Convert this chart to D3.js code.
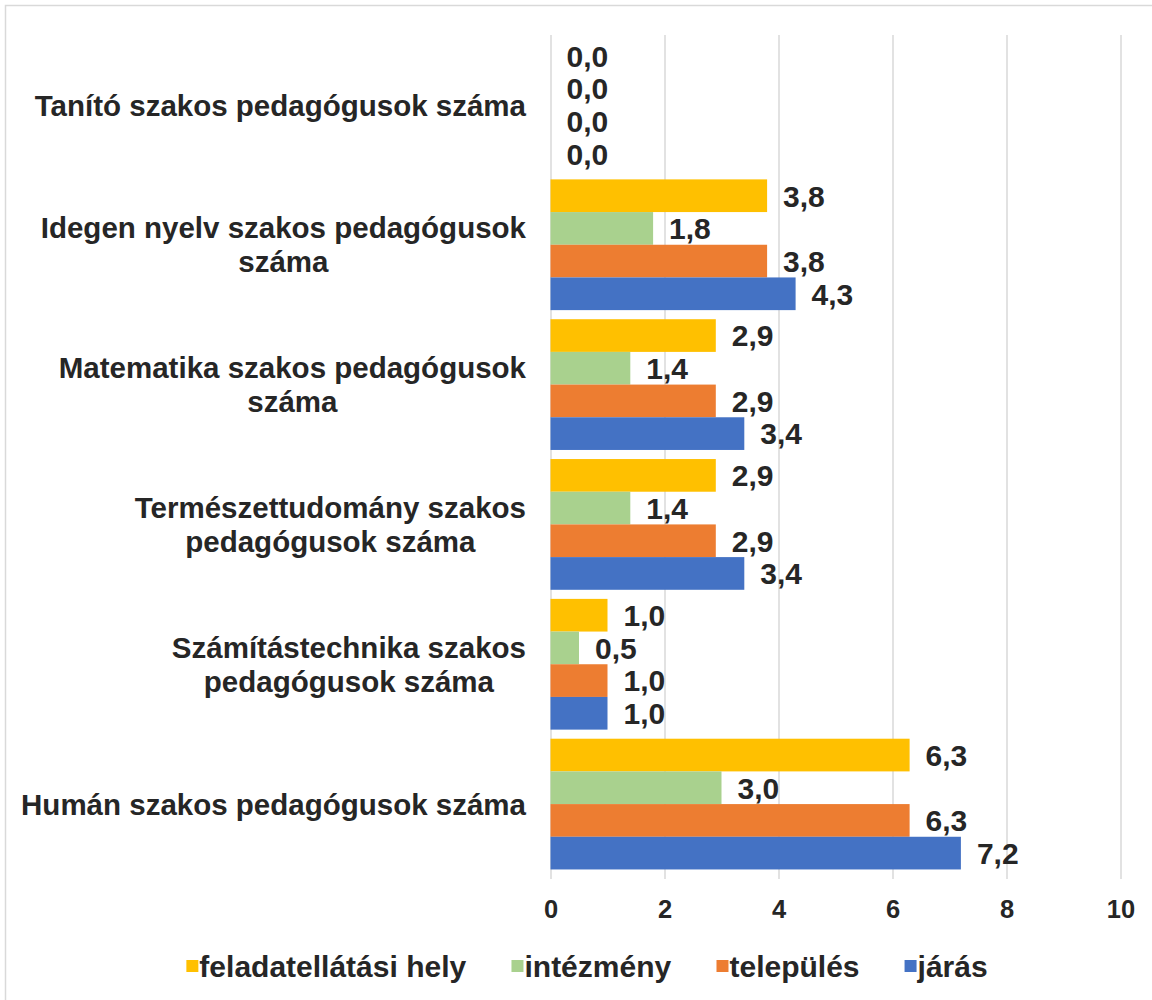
<!DOCTYPE html>
<html>
<head>
<meta charset="utf-8">
<script src="https://cdn.jsdelivr.net/npm/d3@7"></script>
<style>
  body { margin: 0; background: #fff; }
  text { font-family: "Liberation Sans", Arial, sans-serif; font-weight: bold; fill: #262626; }
</style>
</head>
<body>
<div id="chart"></div>
<script>
// ── Data ───────────────────────────────────────────────────
const categories = [
  "Tanító szakos pedagógusok száma",
  "Idegen nyelv szakos pedagógusok száma",
  "Matematika szakos pedagógusok száma",
  "Természettudomány szakos pedagógusok száma",
  "Számítástechnika szakos pedagógusok száma",
  "Humán szakos pedagógusok száma"
];
const seriesNames = ["feladatellátási hely", "intézmény", "település", "járás"];
const feladatellatasiHely = [0.0, 3.8, 2.9, 2.9, 1.0, 6.3];
const intezmeny           = [0.0, 1.8, 1.4, 1.4, 0.5, 3.0];
const telepules           = [0.0, 3.8, 2.9, 2.9, 1.0, 6.3];
const jaras               = [0.0, 4.3, 3.4, 3.4, 1.0, 7.2];
const xTicks = [0, 2, 4, 6, 8, 10];

const seriesValues = [feladatellatasiHely, intezmeny, telepules, jaras];
const COLORS = ["#FFC000", "#A9D18E", "#ED7D31", "#4472C4"];

const W = 1152, H = 1000;
const plot = { left: 550.5, right: 1120.5, top: 35, bottom: 874 };

const svg = d3.select("#chart").append("svg")
  .attr("width", W).attr("height", H);

// outer chart border (runs off the right/bottom edge like the source)
svg.append("rect")
  .attr("x", 5.5).attr("y", 5.5)
  .attr("width", W + 20).attr("height", H + 20)
  .attr("fill", "none").attr("stroke", "#d9d9d9").attr("stroke-width", 1.5);

// ── Scales ─────────────────────────────────────────────────
const x = d3.scaleLinear().domain([0, 10]).range([plot.left, plot.right]);
const y0 = d3.scaleBand().domain(categories).range([plot.top, plot.bottom])
  .paddingInner(0.065).paddingOuter(0.0325);
const y1 = d3.scaleBand().domain(d3.range(4)).range([0, y0.bandwidth()]);

// ── Gridlines (extend below the plot as tick marks) ─────────
svg.append("g")
  .attr("transform", `translate(0,${plot.bottom + 5})`)
  .call(d3.axisBottom(x).tickValues(xTicks).tickSize(-(plot.bottom + 5 - plot.top)).tickFormat(""))
  .call(ax => ax.select(".domain").remove())
  .call(ax => ax.selectAll("line").attr("stroke", "#d9d9d9").attr("stroke-width", 1.5));

// tick labels
svg.append("g")
  .attr("transform", `translate(0,${plot.bottom})`)
  .call(d3.axisBottom(x).tickValues(xTicks).tickSize(0).tickPadding(26))
  .call(ax => ax.select(".domain").remove())
  .call(ax => ax.selectAll("text").attr("font-size", 25.5)
    .style("font-family", "'Liberation Sans', Arial, sans-serif").attr("fill", "#262626"));

// ── Bars + value labels ────────────────────────────────────
categories.forEach((cat, ci) => {
  const g = svg.append("g").attr("transform", `translate(0,${y0(cat)})`);
  seriesValues.forEach((vals, si) => {
    const v = vals[ci];
    g.append("rect")
      .attr("x", x(0))
      .attr("y", y1(si))
      .attr("width", x(v) - x(0))
      .attr("height", y1.bandwidth())
      .attr("fill", COLORS[si]);
    g.append("text")
      .attr("x", x(v) + 16)
      .attr("y", y1(si) + y1.bandwidth() / 2)
      .attr("dy", "0.36em")
      .attr("font-size", 30)
      .text(v.toFixed(1).replace(".", ","));
  });
});

// ── Category labels, word-wrapped and centred per line ─────
const LABEL_RIGHT = 526, MAX_W = 515, LINE_H = 34, CAT_FS = 29.5;
categories.forEach(cat => {
  const t = svg.append("text").attr("font-size", CAT_FS).attr("text-anchor", "middle");
  const words = cat.split(" ");
  const lines = [];
  let cur = [];
  const probe = svg.append("text").attr("font-size", CAT_FS);
  words.forEach(w => {
    const test = [...cur, w].join(" ");
    probe.text(test);
    if (probe.node().getComputedTextLength() > MAX_W && cur.length) {
      lines.push(cur.join(" "));
      cur = [w];
    } else cur.push(w);
  });
  lines.push(cur.join(" "));
  const widths = lines.map(l => { probe.text(l); return probe.node().getComputedTextLength(); });
  probe.remove();
  const cx = LABEL_RIGHT - d3.max(widths) / 2;
  const cy = y0(cat) + y0.bandwidth() / 2;
  lines.forEach((l, i) => {
    t.append("tspan")
      .attr("x", cx)
      .attr("y", cy + (i - (lines.length - 1) / 2) * LINE_H)
      .attr("dy", "0.36em")
      .text(l);
  });
});

// ── Legend ─────────────────────────────────────────────────
const legend = svg.append("g").attr("transform", "translate(0,966)");
const items = [];
seriesNames.forEach((name, i) => {
  const it = legend.append("g");
  it.append("rect").attr("x", 0).attr("y", -6).attr("width", 12).attr("height", 12).attr("fill", COLORS[i]);
  it.append("text").attr("x", 13).attr("dy", "0.36em").attr("font-size", 30).text(name);
  items.push(it);
});
const gap = 45;
const widths = items.map(it => it.node().getBBox().width);
const total = d3.sum(widths) + gap * (items.length - 1);
let lx = (W - total) / 2 + 11;
items.forEach((it, i) => {
  it.attr("transform", `translate(${lx},0)`);
  lx += widths[i] + gap;
});
</script>
</body>
</html>
